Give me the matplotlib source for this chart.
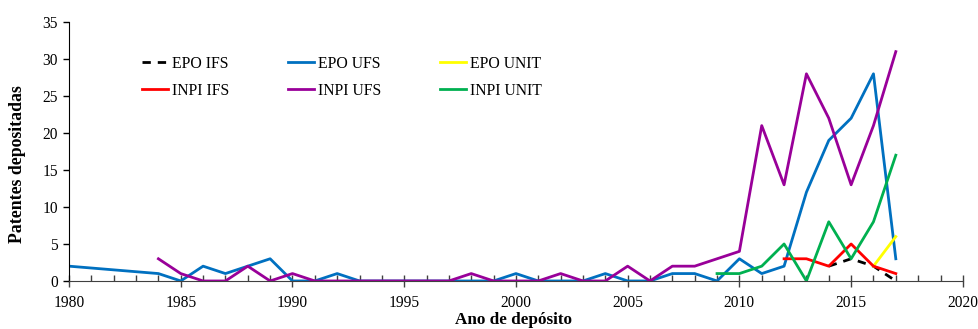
import matplotlib
matplotlib.use("Agg")
import matplotlib.pyplot as plt
from matplotlib.ticker import MultipleLocator

plt.rcParams['font.family'] = ['Liberation Serif', 'DejaVu Serif']

# Data
epo_ifs_years = [2014, 2015, 2016, 2017]
epo_ifs_vals = [2, 3, 2, 0]

epo_ufs_years = [1980, 1984, 1985, 1986, 1987, 1988, 1989, 1990, 1991, 1992, 1993,
                 1994, 1995, 1996, 1997, 1998, 1999, 2000, 2001, 2002, 2003, 2004,
                 2005, 2006, 2007, 2008, 2009, 2010, 2011, 2012, 2013, 2014, 2015,
                 2016, 2017]
epo_ufs_vals = [2, 1, 0, 2, 1, 2, 3, 0, 0, 1, 0,
                0, 0, 0, 0, 0, 0, 1, 0, 0, 0, 1,
                0, 0, 1, 1, 0, 3, 1, 2, 12, 19, 22,
                28, 3]

epo_unit_years = [2016, 2017]
epo_unit_vals = [2, 6]

inpi_ifs_years = [2012, 2013, 2014, 2015, 2016, 2017]
inpi_ifs_vals = [3, 3, 2, 5, 2, 1]

inpi_ufs_years = [1984, 1985, 1986, 1987, 1988, 1989, 1990, 1991, 1992, 1993, 1994,
                  1995, 1996, 1997, 1998, 1999, 2000, 2001, 2002, 2003, 2004, 2005,
                  2006, 2007, 2008, 2009, 2010, 2011, 2012, 2013, 2014, 2015, 2016,
                  2017]
inpi_ufs_vals = [3, 1, 0, 0, 2, 0, 1, 0, 0, 0, 0,
                 0, 0, 0, 1, 0, 0, 0, 1, 0, 0, 2,
                 0, 2, 2, 3, 4, 21, 13, 28, 22, 13, 21,
                 31]

inpi_unit_years = [2009, 2010, 2011, 2012, 2013, 2014, 2015, 2016, 2017]
inpi_unit_vals = [1, 1, 2, 5, 0, 8, 3, 8, 17]

fig = plt.figure(figsize=(9.79, 3.29), dpi=100)
ax = fig.add_axes([0.0705, 0.146, 0.913, 0.787])

lw = 2.0
l_epo_ifs, = ax.plot(epo_ifs_years, epo_ifs_vals, color='black', lw=lw,
                     linestyle=(0, (3, 2.5)), label='EPO IFS')
l_epo_ufs, = ax.plot(epo_ufs_years, epo_ufs_vals, color='#0070C0', lw=lw, label='EPO UFS')
l_epo_unit, = ax.plot(epo_unit_years, epo_unit_vals, color='#FFFF00', lw=lw, label='EPO UNIT')
l_inpi_ifs, = ax.plot(inpi_ifs_years, inpi_ifs_vals, color='#FF0000', lw=lw, label='INPI IFS')
l_inpi_ufs, = ax.plot(inpi_ufs_years, inpi_ufs_vals, color='#990099', lw=lw, label='INPI UFS')
l_inpi_unit, = ax.plot(inpi_unit_years, inpi_unit_vals, color='#00B050', lw=lw, label='INPI UNIT')

ax.set_xlim(1980, 2020)
ax.set_ylim(0, 35)
ax.xaxis.set_major_locator(MultipleLocator(5))
ax.xaxis.set_minor_locator(MultipleLocator(1))
ax.yaxis.set_major_locator(MultipleLocator(5))

for s in ['top', 'right']:
    ax.spines[s].set_visible(False)
ax.spines['bottom'].set_color('#404040')
ax.spines['left'].set_color('black')

ax.tick_params(axis='x', which='major', direction='inout', length=8, width=1,
               labelsize=11.2, color='#404040', pad=6)
ax.tick_params(axis='x', which='minor', direction='in', length=4, width=1, color='#404040')
ax.tick_params(axis='y', which='major', direction='out', length=4, width=1,
               labelsize=11.2, pad=4)

ax.set_xlabel('Ano de depósito', fontsize=12.3, fontweight='bold')
ax.xaxis.set_label_coords(0.497, -0.12)
ax.set_ylabel('Patentes depositadas', fontsize=12.8, fontweight='bold')
ax.yaxis.set_label_coords(-0.048, 0.452)

handles = [l_epo_ifs, l_inpi_ifs, l_epo_ufs, l_inpi_ufs, l_epo_unit, l_inpi_unit]
ax.legend(handles=handles, labels=[h.get_label() for h in handles], ncol=3,
          loc='upper left', bbox_to_anchor=(0.137, 0.855), bbox_transform=fig.transFigure,
          frameon=False, fontsize=11.3, handlelength=1.65, handletextpad=0.25,
          columnspacing=3.75, labelspacing=0.72, borderpad=0)

fig.savefig('out.png', dpi=100)
